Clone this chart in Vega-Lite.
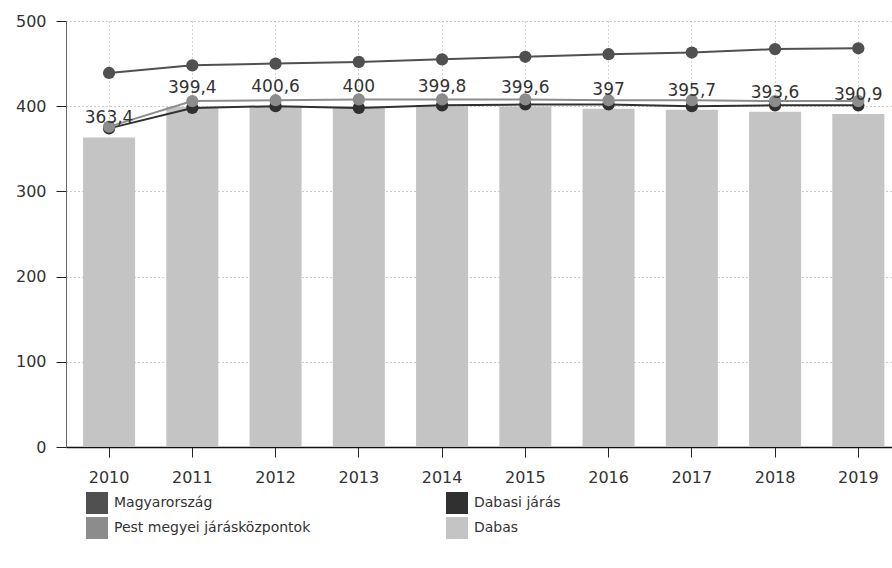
{
  "$schema": "https://vega.github.io/schema/vega-lite/v6.json",
  "width": 826,
  "height": 426,
  "autosize": {"type": "none"},
  "padding": {"left": 66, "top": 21, "right": 0, "bottom": 121},
  "background": "white",
  "config": {
    "view": {"stroke": null},
    "font": "DejaVu Sans",
    "locale": {"number": {"decimal": ",", "thousands": " ", "grouping": [3], "currency": ["", ""]}}
  },
  "data": {
    "values": [
      {"year": "2010", "series": "Dabas", "value": 363.4},
      {"year": "2011", "series": "Dabas", "value": 399.4},
      {"year": "2012", "series": "Dabas", "value": 400.6},
      {"year": "2013", "series": "Dabas", "value": 400},
      {"year": "2014", "series": "Dabas", "value": 399.8},
      {"year": "2015", "series": "Dabas", "value": 399.6},
      {"year": "2016", "series": "Dabas", "value": 397},
      {"year": "2017", "series": "Dabas", "value": 395.7},
      {"year": "2018", "series": "Dabas", "value": 393.6},
      {"year": "2019", "series": "Dabas", "value": 390.9},
      {"year": "2010", "series": "Magyarország", "value": 439},
      {"year": "2011", "series": "Magyarország", "value": 448},
      {"year": "2012", "series": "Magyarország", "value": 450},
      {"year": "2013", "series": "Magyarország", "value": 452},
      {"year": "2014", "series": "Magyarország", "value": 455},
      {"year": "2015", "series": "Magyarország", "value": 458},
      {"year": "2016", "series": "Magyarország", "value": 461},
      {"year": "2017", "series": "Magyarország", "value": 463},
      {"year": "2018", "series": "Magyarország", "value": 467},
      {"year": "2019", "series": "Magyarország", "value": 468},
      {"year": "2010", "series": "Dabasi járás", "value": 374},
      {"year": "2011", "series": "Dabasi járás", "value": 398},
      {"year": "2012", "series": "Dabasi járás", "value": 400},
      {"year": "2013", "series": "Dabasi járás", "value": 398},
      {"year": "2014", "series": "Dabasi járás", "value": 401},
      {"year": "2015", "series": "Dabasi járás", "value": 402},
      {"year": "2016", "series": "Dabasi járás", "value": 402},
      {"year": "2017", "series": "Dabasi járás", "value": 400},
      {"year": "2018", "series": "Dabasi járás", "value": 401},
      {"year": "2019", "series": "Dabasi járás", "value": 401},
      {"year": "2010", "series": "Pest megyei járásközpontok", "value": 376},
      {"year": "2011", "series": "Pest megyei járásközpontok", "value": 406},
      {"year": "2012", "series": "Pest megyei járásközpontok", "value": 407},
      {"year": "2013", "series": "Pest megyei járásközpontok", "value": 408},
      {"year": "2014", "series": "Pest megyei járásközpontok", "value": 408},
      {"year": "2015", "series": "Pest megyei járásközpontok", "value": 408},
      {"year": "2016", "series": "Pest megyei járásközpontok", "value": 407},
      {"year": "2017", "series": "Pest megyei járásközpontok", "value": 407},
      {"year": "2018", "series": "Pest megyei járásközpontok", "value": 406},
      {"year": "2019", "series": "Pest megyei járásközpontok", "value": 406}
    ]
  },
  "encoding": {
    "x": {
      "field": "year", "type": "nominal", "title": null,
      "scale": {"paddingInner": 0.375, "paddingOuter": 0.1485, "align": 0.69},
      "axis": {
        "labelAngle": 0, "labelFontSize": 16, "labelColor": "#333", "labelPadding": 12,
        "tickSize": 10, "tickColor": "#222", "domainColor": "#111", "domainWidth": 1.5,
        "bandPosition": 0.5, "grid": true, "gridDash": [1, 3], "gridColor": "#aaa"
      }
    },
    "y": {
      "field": "value", "type": "quantitative", "title": null,
      "scale": {"domain": [0, 500], "nice": false},
      "axis": {
        "values": [0, 100, 200, 300, 400, 500], "labelFontSize": 16, "labelColor": "#333",
        "labelPadding": 10, "tickSize": 10, "tickColor": "#222", "domainColor": "#666",
        "grid": true, "gridDash": [1, 3], "gridColor": "#999"
      }
    },
    "color": {
      "field": "series", "type": "nominal",
      "scale": {
        "domain": ["Magyarország", "Dabasi járás", "Pest megyei járásközpontok", "Dabas"],
        "range": ["#505050", "#303030", "#8c8c8c", "#c4c4c4"]
      },
      "legend": {
        "title": null, "orient": "none", "legendX": 20, "legendY": 471, "columns": 2,
        "direction": "horizontal",
        "symbolType": "square", "symbolSize": 484, "symbolStrokeWidth": 0,
        "labelFontSize": 14, "labelColor": "#333", "labelOffset": 6, "labelLimit": 400,
        "columnPadding": 135, "rowPadding": 3, "padding": 0
      }
    }
  },
  "layer": [
    {
      "transform": [{"filter": "datum.series === 'Dabas'"}],
      "mark": {"type": "bar"}
    },
    {
      "transform": [{"filter": "datum.series !== 'Dabas'"}],
      "mark": {"type": "line", "strokeWidth": 2}
    },
    {
      "transform": [{"filter": "datum.series !== 'Dabas'"}],
      "mark": {"type": "point", "filled": true, "size": 150, "opacity": 1}
    },
    {
      "transform": [{"filter": "datum.series === 'Dabas'"}],
      "mark": {"type": "text", "dy": -19, "fontSize": 17, "color": "#333", "baseline": "middle"},
      "encoding": {
        "text": {"field": "value", "type": "quantitative", "format": ".1~f"},
        "color": {"value": "#333"}
      }
    }
  ]
}
